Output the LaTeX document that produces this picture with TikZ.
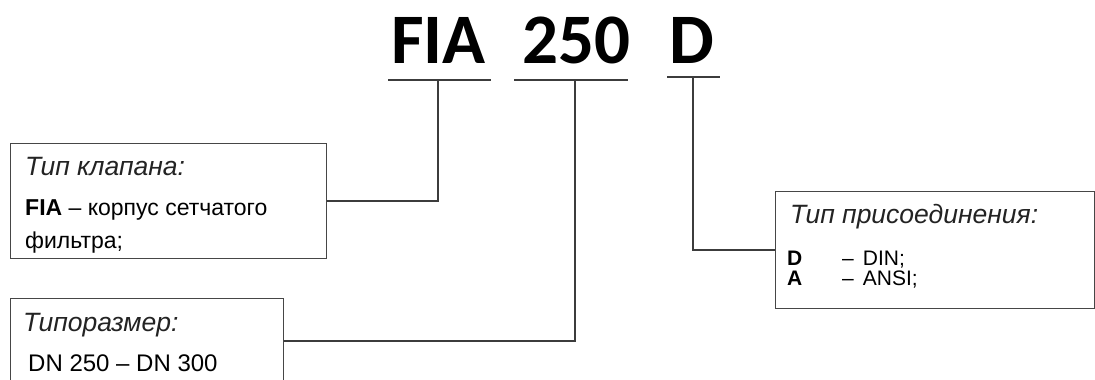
\documentclass[tikz,border=0pt]{standalone}
\usepackage{fontspec}
\setmainfont{Liberation Sans}
\newfontfamily\codefont{Carlito}
\usetikzlibrary{positioning, calc}
\definecolor{leadgray}{RGB}{60,60,60}
\definecolor{boxgray}{RGB}{70,70,70}
\definecolor{headgray}{RGB}{35,35,35}
\tikzset{
  %% ---- boxes ----
  infobox/.style  = {rectangle, draw=boxgray, line width=1.4pt,
                     anchor=north west, inner sep=0pt},
  codepart/.style = {font=\codefont\bfseries\fontsize{71}{71}\selectfont,
                     anchor=base, inner sep=0pt},
  head/.style     = {font=\itshape\fontsize{26.5}{30}\selectfont, text=headgray,
                     anchor=base west, inner sep=0pt},
  body/.style     = {font=\fontsize{#1}{#1}\selectfont,
                     anchor=base west, inner sep=0pt},
  body/.default   = 23,
  %% ---- lines ----
  uline/.style    = {line width=2pt, draw=leadgray},
  lead/.style     = {line width=2pt, draw=leadgray},
}

\begin{document}
\begin{tikzpicture}[x=1pt, y=-1pt]
\useasboundingbox (0,0) rectangle (1095,380);
\fill[white] (0,0) rectangle (1095,380);
\clip (0,0) rectangle (1095,380);
% code
\node[codepart] (fia)  at (438.5,63) {FIA};
\node[codepart] (size) at (576.5,63) {250};
\node[codepart] (conn) at (692,63)   {D};
% boxes
\node[infobox, minimum width=316pt, minimum height=115pt] (valve)   at (10,143)  {};
\node[infobox, minimum width=273pt, minimum height=84pt]  (sizebox) at (10,298)  {};
\node[infobox, minimum width=319pt, minimum height=117pt] (connbox) at (775,191) {};
% texts
\node[head] (valveh) at (25,175) {Тип клапана:};
\node[body] (valve1) at (25,215) {\textbf{FIA} – корпус сетчатого};
\node[body] (valve2) at (25,248) {фильтра;};
\node[head] (sizeh)  at (23,331) {Типоразмер:};
\node[body=24] (size1) at (28,371) {DN 250 – DN 300};
\node[head] (connh)  at (790,223) {Тип присоединения:};
\node[body=21] (conn1) at (787,265) {\makebox[55pt][l]{\textbf{D}}–\hspace{9pt}DIN;};
\node[body=21] (conn2) at (787,285) {\makebox[55pt][l]{\textbf{A}}–\hspace{9pt}ANSI;};
% underlines
\coordinate (fiaL) at (388,80);  \coordinate (fiaR) at (491,80);  \coordinate (fiaT) at (438,80);
\coordinate (sizeL) at (514,80); \coordinate (sizeR) at (628,80); \coordinate (sizeT) at (575,80);
\coordinate (connL) at (667,77); \coordinate (connR) at (720,77); \coordinate (connT) at (693,77);
\draw[uline] (fiaL) -- (fiaR); \draw[uline] (sizeL) -- (sizeR); \draw[uline] (connL) -- (connR);
% leads
\draw[lead] (fiaT) |- (valve.east);
\draw[lead] (sizeT) |- (sizebox.east);
\draw[lead] (connT) |- (connbox.west);
\end{tikzpicture}
\end{document}
